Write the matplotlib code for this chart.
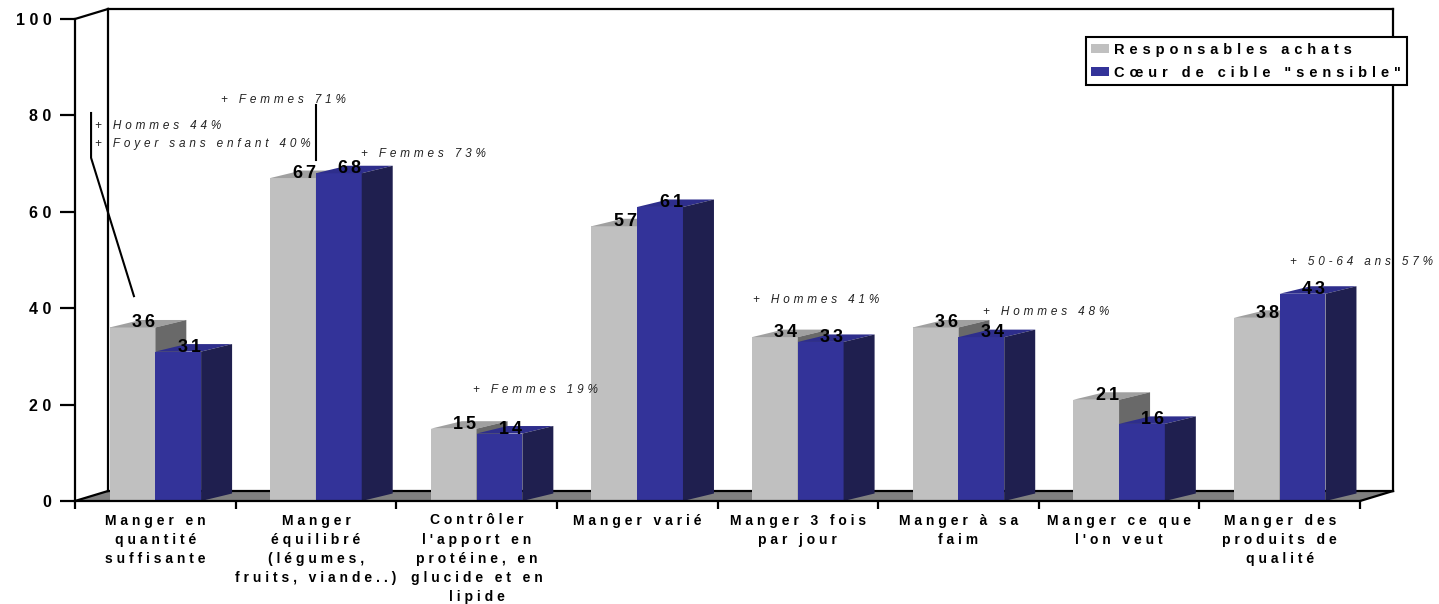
import matplotlib
matplotlib.use("Agg")
import matplotlib.pyplot as plt
from matplotlib.patches import Polygon, Patch

plt.rcParams['font.family'] = ['Liberation Sans', 'DejaVu Sans']

# ---------------- data ----------------
categories = ["Manger en\nquantité\nsuffisante",
              "Manger\néquilibré\n(légumes,\nfruits, viande..)",
              "Contrôler\nl'apport en\nprotéine, en\nglucide et en\nlipide",
              "Manger varié",
              "Manger 3 fois\npar jour",
              "Manger à sa\nfaim",
              "Manger ce que\nl'on veut",
              "Manger des\nproduits de\nqualité"]
resp_achats = [36, 67, 15, 57, 34, 36, 21, 38]
coeur_cible = [31, 68, 14, 61, 33, 34, 16, 43]
series_names = ["Responsables achats", 'Cœur de cible "sensible"']
yticks = [0, 20, 40, 60, 80, 100]
annot_texts = ["+ Hommes 44%", "+ Foyer sans enfant 40%", "+ Femmes 71%",
               "+ Femmes 73%", "+ Femmes 19%", "+ Hommes 41%",
               "+ Hommes 48%", "+ 50-64 ans 57%"]

# ---------------- layout / style ----------------
annot_pos = [(0.125, 77.8), (0.125, 74.1), (0.91, 83.2), (1.78, 72.0),
             (2.48, 23.0), (4.22, 41.7), (5.65, 39.2), (7.565, 49.6)]
leader_lines = [[(0.1, 80.5), (0.1, 71.2), (0.367, 42.5)],
                [(1.5, 82.2), (1.5, 70.7)]]

C_GRAY, C_GRAY_TOP, C_GRAY_SIDE = '#C0C0C0', '#A0A0A0', '#696969'
C_BLUE, C_BLUE_TOP, C_BLUE_SIDE = '#333399', '#2E2E8C', '#1F1F4F'
C_FLOOR = '#808080'

SP_WIDE = '\u2004'   # three-per-em space used as letter tracking
SP_NARROW = '\u2006'  # six-per-em space


def track(s, sep=SP_WIDE):
    return '\n'.join(sep.join(line) for line in s.split('\n'))


W, H = 1439, 604
fig = plt.figure(figsize=(W / 100, H / 100), dpi=100)
px0, px1, py0, py1 = 75, 1360, 501, 19
ax = fig.add_axes([px0 / W, 1 - py0 / H, (px1 - px0) / W, (py0 - py1) / H])
n = len(categories)
ax.set_xlim(0, n)
ax.set_ylim(0, 100)
ax.patch.set_visible(False)
ux = (px1 - px0) / n
uy = (py0 - py1) / 100.0

# walls / floor
DX, DY = 33 / ux, 10 / uy
ax.add_patch(Polygon([(0, 0), (n, 0), (n + DX, DY), (DX, DY)], closed=True,
                     fc=C_FLOOR, ec='none', zorder=0.5, clip_on=False))
lw = 1.6
for seg in [[(DX, DY), (n + DX, DY)], [(n, 0), (n + DX, DY)], [(0, 0), (DX, DY)],
            [(DX, DY), (DX, 100 + DY)], [(DX, 100 + DY), (n + DX, 100 + DY)],
            [(n + DX, DY), (n + DX, 100 + DY)], [(0, 100), (DX, 100 + DY)]]:
    xs, ys = zip(*seg)
    ax.plot(xs, ys, color='black', lw=lw, zorder=0.8, clip_on=False,
            solid_capstyle='projecting')

# bars
w = 0.285
dx, dy = 31 / ux, 7.5 / uy
centers = [i + 0.5 for i in range(n)]


def faces(xl, xr, h, ctop, cside, z):
    ax.add_patch(Polygon([(xl, h), (xr, h), (xr + dx, h + dy), (xl + dx, h + dy)],
                         closed=True, fc=ctop, ec='none', zorder=z, clip_on=False))
    ax.add_patch(Polygon([(xr, 0), (xr + dx, dy), (xr + dx, h + dy), (xr, h)],
                         closed=True, fc=cside, ec='none', zorder=z, clip_on=False))


ax.bar([c - w for c in centers], resp_achats, width=w, align='edge',
       color=C_GRAY, zorder=2.0)
ax.bar(centers, coeur_cible, width=w, align='edge', color=C_BLUE, zorder=2.2)
lab_off = 11 / ux
for c, a, b in zip(centers, resp_achats, coeur_cible):
    faces(c - w, c, a, C_GRAY_TOP, C_GRAY_SIDE, 2.1)
    faces(c, c + w, b, C_BLUE_TOP, C_BLUE_SIDE, 2.3)
    ax.text(c - w / 2 + lab_off, a, track(str(a), SP_NARROW), ha='center',
            va='baseline', fontsize=13, fontweight='bold', color='black', zorder=3)
    ax.text(c + w / 2 + lab_off, b, track(str(b), SP_NARROW), ha='center',
            va='baseline', fontsize=13, fontweight='bold', color='black', zorder=3)

# axes / ticks
for s in ['top', 'right']:
    ax.spines[s].set_visible(False)
for s in ['left', 'bottom']:
    ax.spines[s].set_linewidth(lw)
    ax.spines[s].set_zorder(2.5)
ax.set_yticks(yticks)
ax.set_yticklabels([track(str(v), ' ') for v in yticks], fontsize=11.5,
                   fontweight='bold')
ax.tick_params(axis='y', length=10.8, width=lw, pad=6, direction='out')
ax.set_xticks(range(n + 1))
ax.set_xticklabels([])
ax.tick_params(axis='x', which='major', length=6, width=lw, direction='out')
ax.set_xticks(centers, minor=True)
ax.set_xticklabels([track(c, ' ') for c in categories], minor=True, fontsize=10,
                   fontweight='bold', linespacing=1.47)
ax.tick_params(axis='x', which='minor', length=0, pad=9.0)

# annotations
for t, (x, y) in zip(annot_texts, annot_pos):
    ax.text(x, y, track(t), ha='left', va='center', fontsize=8.5,
            style='italic', color='#222222', zorder=4, clip_on=False)
for ln in leader_lines:
    xs, ys = zip(*ln)
    ax.plot(xs, ys, color='black', lw=1.5, zorder=4, clip_on=False)

# legend
handles = [Patch(fc=C_GRAY, ec='none'), Patch(fc=C_BLUE, ec='none')]
leg = fig.legend(handles, [track(s) for s in series_names], loc='upper right',
                 bbox_to_anchor=(1407 / W, 1 - 37 / H), frameon=True, fancybox=False,
                 edgecolor='black', framealpha=1, prop=dict(weight='bold', size=10.5),
                 handlelength=1.23, handleheight=0.62, handletextpad=0.34,
                 borderpad=0.4, labelspacing=0.6, borderaxespad=0)
leg.get_frame().set_linewidth(1.5)

fig.savefig('out.png', dpi=100)
